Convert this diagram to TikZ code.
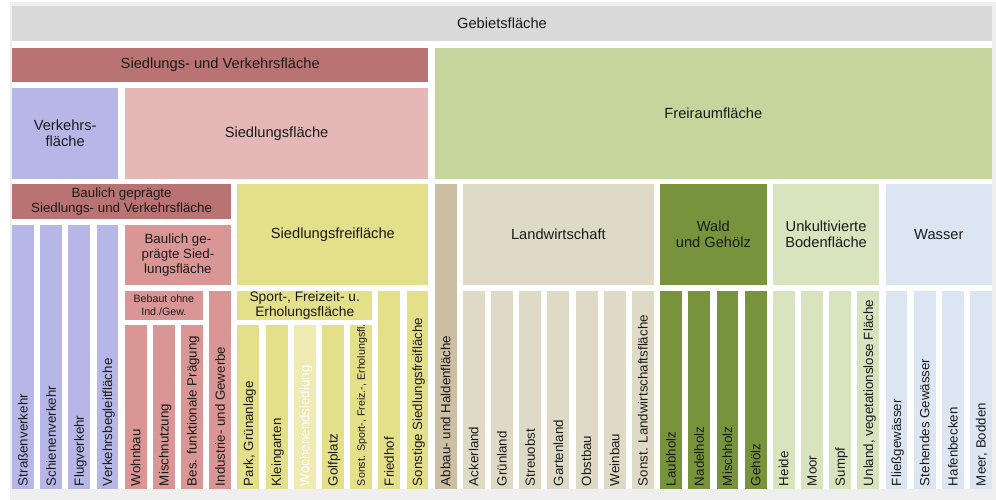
\documentclass[tikz,border=0pt]{standalone}
\usepackage{fontspec}
\setmainfont{Liberation Sans}
\definecolor{framegray}{HTML}{EFEFEF}
\definecolor{cgeb}{HTML}{D9D9D9}
\definecolor{csuv}{HTML}{B97372}
\definecolor{cverk}{HTML}{B7B7E7}
\definecolor{csied}{HTML}{E6B7B7}
\definecolor{cbgs}{HTML}{D99694}
\definecolor{csfrei}{HTML}{E4DF89}
\definecolor{cwoch}{HTML}{EFEBB2}
\definecolor{cabbau}{HTML}{CDBFA4}
\definecolor{clandw}{HTML}{DFDAC6}
\definecolor{cwald}{HTML}{77933C}
\definecolor{cunk}{HTML}{D7E4BD}
\definecolor{cwasser}{HTML}{DCE6F2}
\definecolor{cfrei}{HTML}{C4D69B}
\definecolor{txt}{HTML}{1A1A1A}
\newcommand{\fbig}{\fontsize{14.67}{16}\selectfont}
\newcommand{\fmid}{\fontsize{13.33}{15}\selectfont}
\newcommand{\fsport}{\fontsize{13.8}{14.5}\selectfont}
\newcommand{\fsmall}{\fontsize{10.67}{13}\selectfont}
\def\ybot{489}
% #1 options, #2 name, #3 first column, #4 top, #5 last column, #6 bottom, #7 colour, #8 text
\newcommand{\blk}[8][]{%
  \pgfmathsetmacro{\xa}{12+28.18*#3}%
  \pgfmathsetmacro{\xb}{12+28.18*#5+21.9}%
  \pgfmathsetmacro{\ww}{\xb-\xa}%
  \pgfmathsetmacro{\hh}{#6-#4}%
  \node[blkbox, fill=#7, minimum width=\ww pt, minimum height=\hh pt, anchor=north west, #1] (#2) at (\xa,#4) {#8};%
}
% #1 label options, #2 name, #3 column, #4 top, #5 colour, #6 text
\newcommand{\stripe}[6][]{%
  \blk{#2}{#3}{#4}{#3}{\ybot}{#5}{}%
  \node[vlab, #1] (#2-t) at ([yshift=3pt]#2.south) {#6};%
}
\begin{document}
\begin{tikzpicture}[x=1pt,y=-1pt,
  blkbox/.style={inner sep=0pt, outer sep=0pt, draw=none, text=txt, font=\fbig},
  vlab/.style={rotate=90, anchor=west, inner sep=0pt, outer sep=0pt, text=txt, font=\fmid, text height=12.1pt, text depth=2.8pt},
  smallv/.style={font=\fsmall, text height=9.7pt, text depth=2.3pt}]
\useasboundingbox (0,0) rectangle (996,500);
\fill[framegray] (10,2) rectangle (996,500);
\fill[white] (12,6) rectangle (992,\ybot);

\blk{geb}{0}{6}{34}{41}{cgeb}{Gebietsfläche}
\blk{suv}{0}{48}{14}{82}{csuv}{Siedlungs- und Verkehrsfläche}
\blk{frei}{15}{48}{34}{179}{cfrei}{Freiraumfläche}
\blk[align=center]{verk}{0}{88}{3}{179}{cverk}{Verkehrs-\\fläche}
\blk{sied}{4}{88}{14}{179}{csied}{Siedlungsfläche}
\blk[align=center, font=\fmid]{bgsuv}{0}{184}{7}{219}{csuv}{Baulich geprägte\\Siedlungs- und Verkehrsfläche}
\blk{sfrei}{8}{184}{14}{285}{csfrei}{Siedlungsfreifläche}
\blk{landw}{16}{184}{22}{285}{clandw}{Landwirtschaft}
\blk[align=center]{wald}{23}{184}{26}{285}{cwald}{Wald\\und Gehölz}
\blk[align=center]{unk}{27}{184}{30}{285}{cunk}{Unkultivierte\\Bodenfläche}
\blk{wasser}{31}{184}{34}{285}{cwasser}{Wasser}
\blk[align=center, font=\fmid]{bgs}{4}{225}{7}{285}{cbgs}{Baulich ge-\\prägte Sied-\\lungsfläche}
\blk[align=center, font=\fsmall]{beb}{4}{291}{6}{320}{cbgs}{Bebaut ohne\\Ind./Gew.}
\blk[align=center, font=\fsport]{sport}{8}{291}{12}{320}{csfrei}{Sport-, Freizeit- u.\\Erholungsfläche}

\stripe{strasse}{0}{225}{cverk}{Straßenverkehr}
\stripe{schiene}{1}{225}{cverk}{Schienenverkehr}
\stripe{flug}{2}{225}{cverk}{Flugverkehr}
\stripe{vbf}{3}{225}{cverk}{Verkehrsbegleitfläche}
\stripe{wohn}{4}{325}{cbgs}{Wohnbau}
\stripe{misch}{5}{325}{cbgs}{Mischnutzung}
\stripe{bes}{6}{325}{cbgs}{Bes. funktionale Prägung}
\stripe{ind}{7}{291}{cbgs}{Industrie- und Gewerbe}
\stripe{park}{8}{325}{csfrei}{Park, Grünanlage}
\stripe{klein}{9}{325}{csfrei}{Kleingarten}
\stripe[text=white]{woch}{10}{325}{cwoch}{Wochenendsiedlung}
\stripe{golf}{11}{325}{csfrei}{Golfplatz}
\stripe[smallv]{sonstsp}{12}{325}{csfrei}{Sonst. Sport-, Freiz.-, Erholungsfl.}
\stripe{friedhof}{13}{291}{csfrei}{Friedhof}
\stripe{sonstsf}{14}{291}{csfrei}{Sonstige Siedlungsfreifläche}
\stripe{abbau}{15}{184}{cabbau}{Abbau- und Haldenfläche}
\stripe{acker}{16}{291}{clandw}{Ackerland}
\stripe{gruen}{17}{291}{clandw}{Grünland}
\stripe{streu}{18}{291}{clandw}{Streuobst}
\stripe{garten}{19}{291}{clandw}{Gartenland}
\stripe{obst}{20}{291}{clandw}{Obstbau}
\stripe{wein}{21}{291}{clandw}{Weinbau}
\stripe{sonstlw}{22}{291}{clandw}{Sonst. Landwirtschaftsfläche}
\stripe{laub}{23}{291}{cwald}{Laubholz}
\stripe{nadel}{24}{291}{cwald}{Nadelholz}
\stripe{mischh}{25}{291}{cwald}{Mischholz}
\stripe{gehoelz}{26}{291}{cwald}{Gehölz}
\stripe{heide}{27}{291}{cunk}{Heide}
\stripe{moor}{28}{291}{cunk}{Moor}
\stripe{sumpf}{29}{291}{cunk}{Sumpf}
\stripe{unland}{30}{291}{cunk}{Unland, vegetationslose Fläche}
\stripe{fliess}{31}{291}{cwasser}{Fließgewässer}
\stripe{steh}{32}{291}{cwasser}{Stehendes Gewässer}
\stripe{hafen}{33}{291}{cwasser}{Hafenbecken}
\stripe{meer}{34}{291}{cwasser}{Meer, Bodden}
\end{tikzpicture}
\end{document}
